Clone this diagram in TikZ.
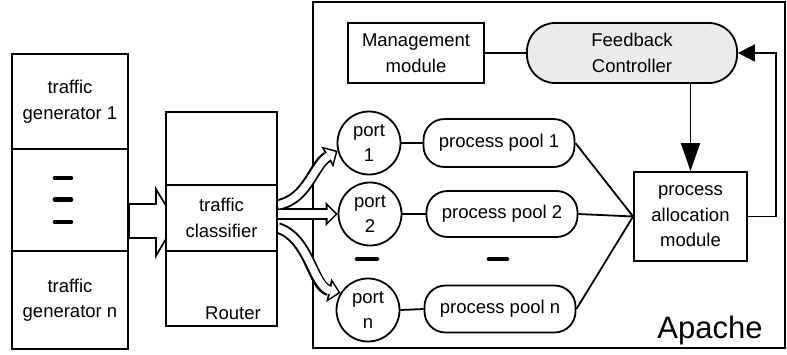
\documentclass[tikz,border=0pt]{standalone}
\usepackage{fontspec}
\setmainfont{Liberation Sans}
\usetikzlibrary{arrows.meta}
\begin{document}
\begin{tikzpicture}[x=1pt,y=-1pt, line width=1.8pt,
  txt/.style={font=\fontsize{18.5}{25.5}\selectfont, align=center, inner sep=0pt},
  box/.style={draw, fill=white, txt},
  portc/.style={draw, fill=white, circle, minimum size=63pt, txt, inner sep=0pt},
  pool/.style={draw, fill=white, rounded corners=21pt, minimum height=48pt, minimum width=151pt, txt},
  dashmark/.style={line width=4.6pt, line cap=round},
  harrowout/.style={line width=11.5pt, -{Triangle[width=24pt,length=12pt,line width=0pt]}},
  harrowin/.style={line width=7.6pt, white, shorten >=2.3pt, -{Triangle[width=16pt,length=7.8pt,line width=0pt]}},
  tipA/.style={-{Triangle[width=17pt,length=17pt]}},
  tipB/.style={-{Triangle[width=19pt,length=28pt]}}
]
\useasboundingbox (0,0) rectangle (787,354);

% Apache container
\node[draw, minimum width=472pt, minimum height=346pt, inner sep=0pt] (apache) at (549,175) {};
\node[txt, font=\fontsize{31}{31}\selectfont, anchor=base] (apachelbl) at (710,338) {Apache};

% traffic generators
\node[box, minimum width=116pt, minimum height=95pt] (gen1) at (70,101.5) {traffic\\generator 1};
\node[box, minimum width=116pt, minimum height=102pt] (gendots) at (70,200) {};
\node[box, minimum width=116pt, minimum height=98pt] (genN) at (70,300) {traffic\\generator n};
\draw[dashmark] (55,178) -- (71,178);
\draw[dashmark] (55,199.5) -- (71,199.5);
\draw[dashmark] (55,222) -- (71,222);

% fat arrow generators -> classifier
\draw[fill=white, line width=1.7pt] (gendots.east) ++(0,4) -- ++(27,0) -- ++(0,-15) -- ++(20,33) -- ++(-20,34) -- ++(0,-18) -- ++(-27,0) -- cycle;

% ports
\node[portc] (port1) at (369,143) {port\\1};
\node[portc] (port2) at (370,214) {port\\2};
\node[portc] (portn) at (368,310) {port\\n};

% hollow arrows classifier -> ports (drawn before router so the router edge covers their roots)
\node[inner sep=0pt, minimum width=111pt, minimum height=66pt] (classpos) at (221.5,218) {};
\foreach \st in {harrowout, harrowin}{
  \draw[\st] ([yshift=13pt]classpos.east) .. controls +(30,-6) and +(-24,14) .. (port1.194);
  \draw[\st] (classpos.east |- port2.west) -- (port2.west);
  \draw[\st] ([yshift=-10pt]classpos.east) .. controls +(32,10) and +(-28,-6) .. (portn.148);
}

% router
\node[box, minimum width=111pt, minimum height=73pt] (routertop) at (221.5,148.5) {};
\node[box, minimum width=111pt, minimum height=66pt] (classifier) at (221.5,218) {traffic\\classifier};
\node[box, minimum width=111pt, minimum height=75pt] (routerbot) at (221.5,288.5) {};
\node[txt, anchor=base] (routerlbl) at (233,319) {Router};

% process pools
\node[pool] (pool1) at (499,143) {process pool 1};
\node[pool, minimum height=46pt] (pool2) at (502,214) {process pool 2};
\node[pool, minimum height=47pt] (pooln) at (500,309) {process pool n};

\draw[dashmark] (357,259) -- (377,259);
\draw[dashmark] (489,259) -- (507,259);

% management and feedback
\node[box, minimum width=136pt, minimum height=60pt] (mgmt) at (416,53) {Management\\module};
\node[draw, fill=black!8, rounded corners=28pt, minimum width=210pt, minimum height=60pt, txt] (fb) at (632,53) {Feedback\\Controller};
\node[box, minimum width=113pt, minimum height=89pt] (alloc) at (690.5,216.5) {process\\allocation\\module};

% connections
\draw (port1.east) -- (pool1.west);
\draw (port2.east) -- (pool2.west);
\draw (portn.east) -- (pooln.west);
\draw (pool1.east) -- (alloc.west);
\draw (pool2.east) -- (alloc.west);
\draw (pooln.east) -- (alloc.west);
\draw (mgmt.east) -- (fb.west);
\draw[tipB] (alloc.north |- fb.south) -- (alloc.north);
\coordinate (loopc) at (776,53);
\draw[tipA] (alloc.east) -| (loopc) -- (fb.east);
\end{tikzpicture}
\end{document}
